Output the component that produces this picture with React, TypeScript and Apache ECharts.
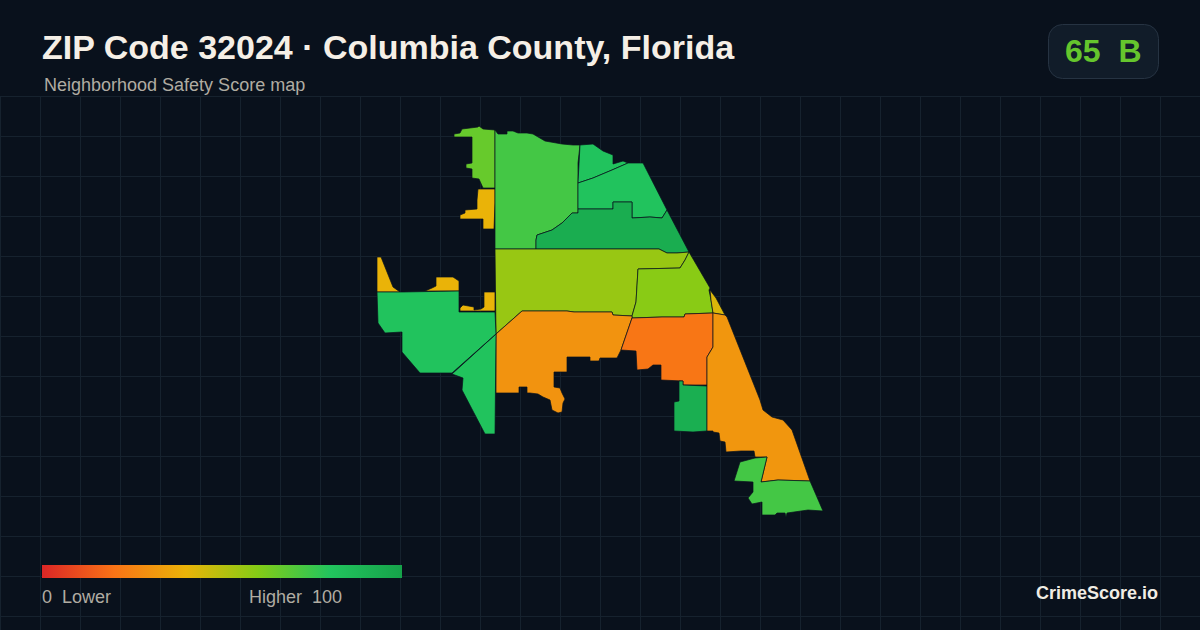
import React, { useEffect, useRef } from "react";
import * as echarts from "echarts";

const titleText = "ZIP Code 32024 · Columbia County, Florida";
const subtitleText = "Neighborhood Safety Score map";
const scoreText = "65  B";
const brandText = "CrimeScore.io";
const lowText = "0  Lower";
const highText = "Higher  100";

const scaleColors = ["#dc2626", "#f97316", "#eab308", "#84cc16", "#22c55e", "#16a34a"];

const regionNames = ["nw-lime", "nw-yellow", "north", "ne-top", "ne-mid", "ne-band", "central", "east-lime", "central-orange", "deep-orange", "small-green", "small-yellow", "east-orange", "south", "west-yellow", "west-green"];
const regionScores = [66, 40, 73, 81, 81, 94, 56, 59, 30, 21, 93, 43, 31, 73, 40, 81];

type Ring = number[][];
const regionRings: Ring[][] = [
  [[[454,134],[460,133],[462,129],[478,127],[479,126],[483,129],[495,130],[495,188],[483,188],[479,179],[472,178],[472,169],[466,168],[466,164],[472,163],[472,137],[454,137]]],
  [[[478,189],[495,189],[495,194],[495,203],[494,229],[483,229],[483,219],[460,219],[460,215],[465,213],[465,210],[477,209],[477,200]]],
  [[[495,130],[498,134],[507,134],[507,131],[513,131],[518,133],[527,133],[533,134],[545,141],[562,144],[573,145],[580,145],[578,163],[578,183],[578,192],[578,209],[578,213],[572,213],[562,223],[552,230],[537,235],[536,240],[536,249],[495,249]]],
  [[[580,145],[593,144],[603,151],[613,155],[613,164],[623,161],[628,163],[612,170],[593,178],[578,183]]],
  [[[578,183],[593,178],[612,170],[628,163],[643,163],[667,210],[662,218],[650,217],[632,218],[632,202],[613,202],[613,209],[578,209]]],
  [[[578,209],[613,209],[613,202],[632,202],[632,218],[650,217],[662,218],[667,210],[689,252],[677,253],[667,253],[659,249],[622,249],[570,249],[536,249],[536,240],[537,235],[552,230],[562,223],[572,213],[578,213]]],
  [[[495,249],[536,249],[570,249],[622,249],[659,249],[667,253],[677,253],[689,252],[685,260],[680,268],[638,269],[636,302],[632,316],[613,315],[612,312],[597,312],[574,312],[567,311],[522,311],[496,334]]],
  [[[689,252],[710,288],[709,290],[711,300],[713,313],[685,314],[684,317],[662,317],[632,318],[632,316],[636,302],[638,269],[680,268],[685,260]]],
  [[[496,334],[522,311],[567,311],[574,312],[597,312],[612,312],[613,315],[632,316],[632,318],[621,350],[617,358],[600,358],[599,361],[590,361],[590,357],[567,357],[567,372],[554,372],[554,387],[560,388],[562,393],[565,399],[563,403],[562,412],[558,413],[552,410],[550,400],[543,397],[538,394],[530,393],[527,393],[527,387],[519,387],[519,393],[496,393]]],
  [[[632,318],[662,317],[684,317],[685,314],[713,313],[713,347],[707,357],[707,385],[683,385],[683,381],[661,380],[661,365],[653,365],[648,369],[637,370],[636,351],[621,350]]],
  [[[679,381],[683,381],[683,385],[707,386],[707,431],[693,432],[674,431],[674,402],[679,401]]],
  [[[710,290],[716,298],[725,315],[713,313],[711,300]]],
  [[[713,313],[725,315],[727,317],[760,400],[763,410],[772,417],[783,420],[792,430],[810,481],[778,480],[761,482],[767,457],[755,457],[754,451],[741,451],[726,452],[725,442],[720,441],[719,433],[713,432],[713,431],[707,431],[707,386],[707,357],[713,347]]],
  [[[740,462],[755,458],[767,457],[761,482],[778,480],[810,481],[823,511],[808,510],[787,513],[786,517],[785,513],[777,513],[775,515],[762,515],[762,502],[752,504],[748,498],[753,492],[753,482],[734,481]]],
  [
    [[377,257],[381,257],[387,272],[393,287],[400,292],[377,292]],
    [[425,291],[432,288],[436,286],[436,277],[453,277],[459,281],[459,291]],
    [[460,308],[463,305],[474,307],[474,310],[481,309],[484,307],[484,292],[495,292],[495,311],[460,311]],
  ],
  [
    [[377,292],[403,292],[459,291],[459,312],[495,312],[496,334],[452,373],[420,373],[402,352],[402,332],[385,333],[378,323]],
    [[496,334],[495,434],[485,434],[462,390],[463,378],[452,374]],
  ],
];

const gridStep = 40;
const gridTop = 96;
const pageW = 1200;
const pageH = 630;

function buildGeo() {
  return {
    type: "FeatureCollection",
    features: regionNames.map((name, i) => ({
      type: "Feature",
      properties: { name },
      geometry: {
        type: "MultiPolygon",
        coordinates: regionRings[i].map((r) => [r.map(([x, y]) => [x, -y])]),
      },
    })),
  };
}

function gridLines() {
  const out: any[] = [];
  const style = { stroke: "#16222e", lineWidth: 1 };
  for (let x = 0; x <= pageW; x += gridStep) {
    out.push({ type: "line", z: 0, silent: true, shape: { x1: x + 0.5, y1: gridTop, x2: x + 0.5, y2: pageH }, style });
  }
  for (let y = gridTop; y <= pageH; y += gridStep) {
    out.push({ type: "line", z: 0, silent: true, shape: { x1: 0, y1: y + 0.5, x2: pageW, y2: y + 0.5 }, style });
  }
  return out;
}

const sans = "'Liberation Sans', Arial, sans-serif";
const pageBg = "#09111c";

export default function App() {
  const ref = useRef<HTMLDivElement>(null);
  useEffect(() => {
    document.body.style.margin = "0";
    document.body.style.background = pageBg;
    const chart = echarts.init(ref.current!, undefined, { renderer: "svg", width: pageW, height: pageH });
    echarts.registerMap("zip32024", buildGeo() as any);
    const xs = regionRings.flat(2).map((p) => p[0]);
    const ys = regionRings.flat(2).map((p) => p[1]);
    const minX = Math.min(...xs), maxX = Math.max(...xs), minY = Math.min(...ys), maxY = Math.max(...ys);
    const text = (x: number, y: number, t: string, size: number, fill: string, weight: any, align: any = "left") => ({
      type: "text", x, y, z: 10, silent: true,
      style: { text: t, fontFamily: sans, fontSize: size, fontWeight: weight, fill, textAlign: align, textVerticalAlign: "middle" },
    });
    chart.setOption({
      animation: false,
      backgroundColor: pageBg,
      visualMap: { show: false, min: 0, max: 100, inRange: { color: scaleColors }, seriesIndex: 0 },
      series: [{
        type: "map",
        map: "zip32024",
        aspectScale: 1,
        roam: false,
        silent: true,
        left: minX, top: minY, width: maxX - minX, height: maxY - minY,
        label: { show: false },
        emphasis: { disabled: true },
        select: { disabled: true },
        itemStyle: { borderColor: pageBg, borderWidth: 0.7 },
        data: regionNames.map((name, i) => ({ name, value: regionScores[i] })),
      }],
      graphic: [
        ...gridLines(),
        text(42, 46.5, titleText, 34, "#f5efe6", "bold"),
        text(44, 85, subtitleText, 18, "#b0aca2", "normal"),
        { type: "rect", z: 9, silent: true, shape: { x: 1048.5, y: 24.5, width: 110, height: 54, r: 14 }, style: { fill: "#111c29", stroke: "#263342", lineWidth: 1 } },
        text(1065, 51, scoreText, 32, "#65c52d", "bold"),
        { type: "rect", z: 9, silent: true, shape: { x: 42, y: 565, width: 360, height: 13 },
          style: { fill: new echarts.graphic.LinearGradient(0, 0, 1, 0, scaleColors.map((color, i) => ({ offset: i / (scaleColors.length - 1), color }))) } },
        text(42, 597, lowText, 18, "#b0aca2", "normal"),
        text(249, 597, highText, 18, "#b0aca2", "normal"),
        text(1158, 593, brandText, 18, "#f0ece4", "bold", "right"),
      ],
    });
    return () => chart.dispose();
  }, []);
  return <div ref={ref} style={{ position: "fixed", left: 0, top: 0, width: pageW, height: pageH }} />;
}
